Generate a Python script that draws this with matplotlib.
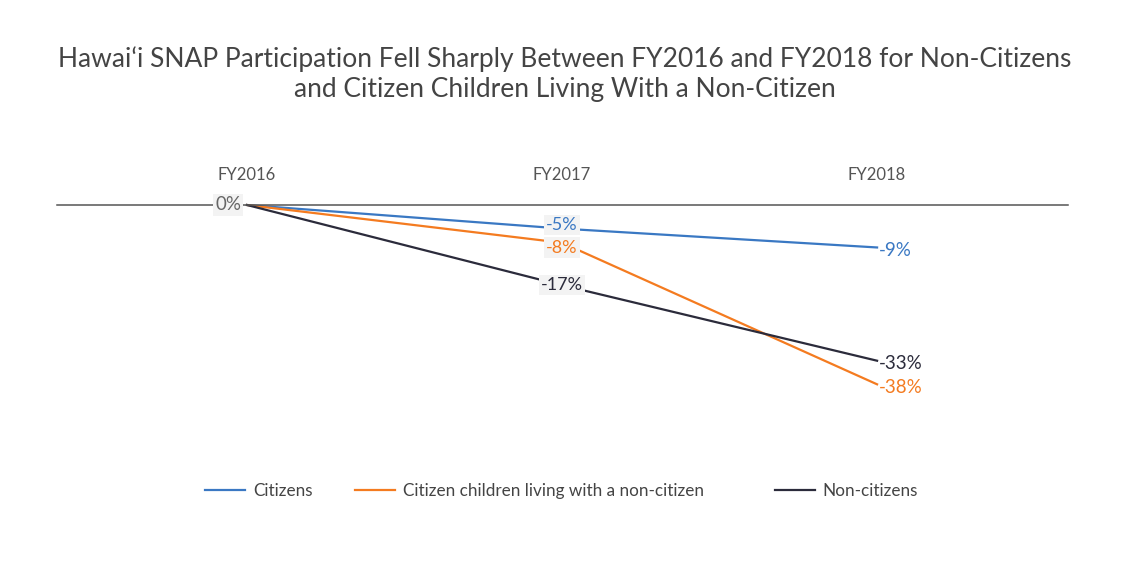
import matplotlib.pyplot as plt
from matplotlib.lines import Line2D

plt.rcParams['font.family'] = ['Lato', 'DejaVu Sans']

years = ["FY2016", "FY2017", "FY2018"]
citizens = [0, -5, -9]
children = [0, -8, -38]
noncitizens = [0, -17, -33]

names = ["Citizens", "Citizen children living with a non-citizen", "Non-citizens"]
colors = ["#3a78c3", "#f47b20", "#2b2b3b"]
series = [citizens, children, noncitizens]

fig = plt.figure(figsize=(11.3, 5.65), dpi=100)
ax = fig.add_axes([57 / 1130, 125 / 565, 1011 / 1130, 235 / 565])

x = list(range(len(years)))
for vals, col in zip(series, colors):
    ax.plot(x, vals, color=col, lw=1.6, clip_on=False, zorder=2)

ax.set_xlim(-0.603, 2.606)
ax.set_ylim(-49.8, 0)

for s in ["left", "right", "bottom"]:
    ax.spines[s].set_visible(False)
ax.spines["top"].set_color("#555555")
ax.spines["top"].set_linewidth(1.1)
ax.set_yticks([])
ax.xaxis.tick_top()
ax.set_xticks(x)
ax.set_xticklabels(years, fontsize=12, color="#555555")
ax.tick_params(axis="x", length=0, pad=16)

box = dict(boxstyle="square,pad=0.12", facecolor="#f3f3f3", edgecolor="none")
ax.text(-0.06, 0, "0%", ha="center", va="center", fontsize=13.5, color="#666666",
        bbox=box, zorder=3)

# nudges (points) for the FY2017 labels so the close ones don't collide
mid_dy = [2.5, -3.5, 0]
for vals, col, dy in zip(series, colors, mid_dy):
    ax.annotate(f"{vals[1]}%", (1, vals[1]), xytext=(0, dy), textcoords="offset points",
                ha="center", va="center", fontsize=13, color=col, bbox=box, zorder=3)
    ax.annotate(f"{vals[2]}%", (2, vals[2]), xytext=(1, -2), textcoords="offset points",
                ha="left", va="center", fontsize=13.5, color=col, zorder=3)

fig.suptitle("Hawai\u2018i SNAP Participation Fell Sharply Between FY2016 and FY2018 for Non-Citizens\n"
             "and Citizen Children Living With a Non-Citizen",
             x=0.5, y=1 - 46 / 565, va="top", fontsize=19, color="#444444", linespacing=1.25)

legend_x = [205, 355, 775]
for lx, name, col in zip(legend_x, names, colors):
    h = Line2D([], [], color=col, lw=1.6)
    fig.legend([h], [name], loc="center left", bbox_to_anchor=(lx / 1130, 1 - 491 / 565),
               frameon=False, fontsize=12.3, borderpad=0, borderaxespad=0,
               handlelength=2.35, handletextpad=0.45, labelcolor="#444444")

fig.savefig("out.png", dpi=100)
